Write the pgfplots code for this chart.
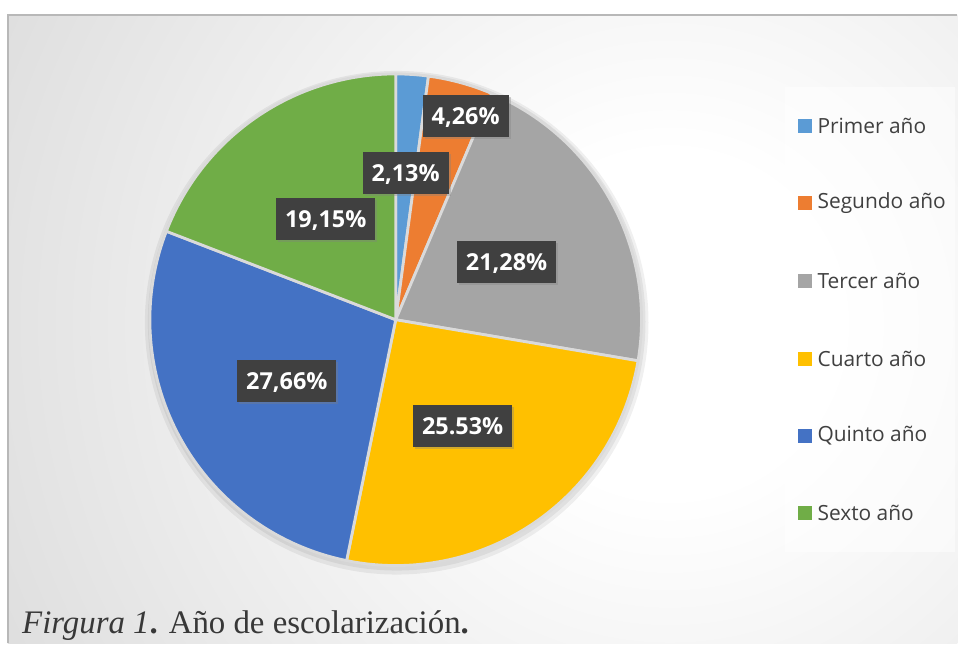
\documentclass[border=0pt]{standalone}
\usepackage{pgfplots}
\pgfplotsset{compat=1.18}
\usepackage{fontspec}
\setmainfont{Liberation Serif}
\newfontfamily\osans{Open Sans}
\usetikzlibrary{shadows}
\definecolor{cA}{HTML}{5B9BD5}
\definecolor{cB}{HTML}{ED7D31}
\definecolor{cC}{HTML}{A5A5A5}
\definecolor{cD}{HTML}{FFC000}
\definecolor{cE}{HTML}{4472C4}
\definecolor{cF}{HTML}{70AD47}
\definecolor{bgdark}{HTML}{C4C4C4}
\definecolor{gapc}{HTML}{DADADA}
\definecolor{labbg}{HTML}{404040}
\definecolor{txt}{HTML}{404040}
\pgfdeclareradialshading{bgshade}{\pgfpoint{0bp}{0bp}}{rgb(0bp)=(1,1,1); rgb(3bp)=(1,1,1); rgb(21bp)=(0.77,0.77,0.77); rgb(50bp)=(0.77,0.77,0.77)}
\newcommand\slice[3]{%
  \fill[#3, draw=gapc, line width=2.8bp, line join=round] (axis cs:396,324) -- ++({90-3.6*#1}:246bp)
    arc[start angle={90-3.6*#1}, end angle={90-3.6*#2}, radius=246bp] -- cycle;}
\tikzset{
  lab/.style={fill=labbg, text=white, font=\osans\bfseries\fontsize{23.5}{24}\selectfont,
    inner xsep=9bp, inner ysep=0pt, minimum height=42bp, text height=17bp, text depth=0bp,
    drop shadow={shadow xshift=2bp, shadow yshift=-2bp, opacity=0.35}},
  leg/.style={anchor=west, text=txt, font=\osans\fontsize{21}{24}\selectfont, inner sep=0pt}}
\begin{document}
\begin{tikzpicture}
\begin{axis}[scale only axis, width=958bp, height=644bp,
  xmin=0, xmax=958, ymin=0, ymax=644, hide axis, clip=false]
% background
\fill[white] (axis cs:0,0) rectangle (axis cs:958,644);
\begin{scope}
\clip (axis cs:8,0) rectangle (axis cs:958,629);
\fill[bgdark] (axis cs:8,0) rectangle (axis cs:958,629);
\shade[shading=bgshade] (axis cs:670,320) circle[radius=1420bp];
\end{scope}
\draw[black!28, line width=1.5bp] (axis cs:8,0) -- (axis cs:8,629) -- (axis cs:958,629);
% pie shadow
\fill[black, opacity=0.06] (axis cs:397,321) circle[radius=252bp];
\fill[black, opacity=0.06] (axis cs:397,322) circle[radius=249bp];
% slices (percentages, cumulative)
\slice{0}{2.13}{cA}
\slice{2.13}{6.39}{cB}
\slice{6.39}{27.67}{cC}
\slice{27.67}{53.20}{cD}
\slice{53.20}{80.86}{cE}
\slice{80.86}{100}{cF}
% data labels
\node[lab] at (axis cs:466,528) {4,26\%};
\node[lab] at (axis cs:406,471) {2,13\%};
\node[lab] at (axis cs:326,425) {19,15\%};
\node[lab] at (axis cs:507,382) {21,28\%};
\node[lab] at (axis cs:287,263) {27,66\%};
\node[lab] at (axis cs:463,218) {25.53\%};
% legend
\fill[white, opacity=0.5] (axis cs:786,92) rectangle (axis cs:956,557);
\fill[cA] (axis cs:799,511) rectangle (axis cs:813,525);
\node[leg] at (axis cs:818,518) {Primer año};
\fill[cB] (axis cs:799,433.5) rectangle (axis cs:813,447.5);
\node[leg] at (axis cs:818,440.5) {Segundo año};
\fill[cC] (axis cs:799,356) rectangle (axis cs:813,370);
\node[leg] at (axis cs:818,363) {Tercer año};
\fill[cD] (axis cs:799,278) rectangle (axis cs:813,292);
\node[leg] at (axis cs:818,285) {Cuarto año};
\fill[cE] (axis cs:799,201) rectangle (axis cs:813,215);
\node[leg] at (axis cs:818,208) {Quinto año};
\fill[cF] (axis cs:799,124) rectangle (axis cs:813,138);
\node[leg] at (axis cs:818,131) {Sexto año};
% caption
\node[anchor=base west, inner sep=0pt, text=black!78] at (axis cs:22,10)
  {\fontsize{33}{38}\selectfont\textit{Firgura 1}\textbf{.} Año de escolarización\textbf{.}};
\end{axis}
\end{tikzpicture}
\end{document}
